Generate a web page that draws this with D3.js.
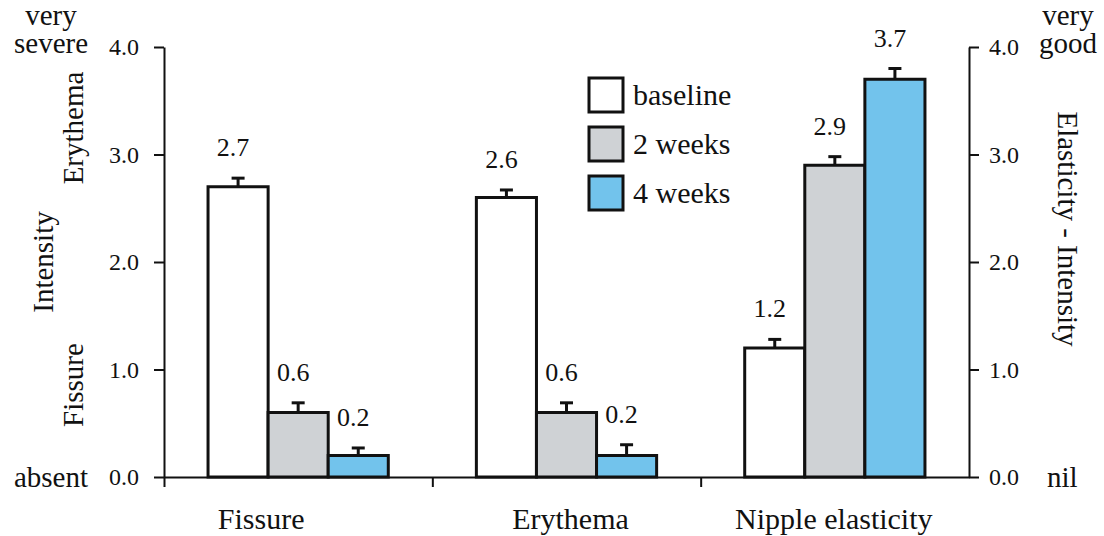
<!DOCTYPE html>
<html>
<head>
<meta charset="utf-8">
<script src="https://cdn.jsdelivr.net/npm/d3@7/dist/d3.min.js"></script>
<style>
  html, body { margin: 0; padding: 0; background: #fff; }
  svg { display: block; }
</style>
</head>
<body>
<svg id="chart" width="1104" height="536"></svg>
<script>
// Scores per condition and time point
const categories = ["Fissure", "Erythema", "Nipple elasticity"];
const seriesNames = ["baseline", "2 weeks", "4 weeks"];
const baselineValues = [2.7, 2.6, 1.2];
const week2Values = [0.6, 0.6, 2.9];
const week4Values = [0.2, 0.2, 3.7];
const baselineErr = [0.08, 0.07, 0.08];
const week2Err = [0.09, 0.09, 0.08];
const week4Err = [0.07, 0.1, 0.1];
const yTicks = [0, 1, 2, 3, 4];

const seriesValues = [baselineValues, week2Values, week4Values];
const seriesErr = [baselineErr, week2Err, week4Err];
const seriesFill = ["#ffffff", "#cfd2d5", "#72c3ec"];

const FONT = '"Liberation Serif", "Times New Roman", serif';
const INK = "#111";
const plot = { left: 164, right: 969, top: 47, bottom: 477 };

const svg = d3.select("#chart");

const x = d3.scaleBand().domain(categories).range([plot.left, plot.right]).paddingInner(0).paddingOuter(0);
const xSeries = d3.scaleBand().domain(seriesNames).range([0, x.bandwidth()]).paddingInner(0).paddingOuter(0.733);
const y = d3.scaleLinear().domain([0, 4]).range([plot.bottom, plot.top]);
const xEdge = d3.scaleLinear().domain([0, categories.length]).range([plot.left, plot.right]);

// Bars, one group per category
const rows = [];
categories.forEach((c, i) => {
  seriesNames.forEach((s, j) => {
    rows.push({ cat: c, series: s, j, value: seriesValues[j][i], err: seriesErr[j][i] });
  });
});

const g = svg.append("g");
const bx = d => x(d.cat) + xSeries(d.series);
const bw = xSeries.bandwidth();

// error bars (upper whisker only)
g.selectAll("line.err").data(rows).join("line").attr("class", "err")
  .attr("x1", d => bx(d) + bw / 2).attr("x2", d => bx(d) + bw / 2)
  .attr("y1", d => y(d.value)).attr("y2", d => y(d.value + d.err))
  .attr("stroke", INK).attr("stroke-width", 3);
g.selectAll("line.cap").data(rows).join("line").attr("class", "cap")
  .attr("x1", d => bx(d) + bw / 2 - 6.5).attr("x2", d => bx(d) + bw / 2 + 6.5)
  .attr("y1", d => y(d.value + d.err)).attr("y2", d => y(d.value + d.err))
  .attr("stroke", INK).attr("stroke-width", 3);

g.selectAll("rect.bar").data(rows).join("rect").attr("class", "bar")
  .attr("x", d => bx(d)).attr("width", bw)
  .attr("y", d => y(d.value)).attr("height", d => y(0) - y(d.value))
  .attr("fill", d => seriesFill[d.j])
  .attr("stroke", INK).attr("stroke-width", 3);

// value labels
g.selectAll("text.val").data(rows).join("text").attr("class", "val")
  .attr("x", d => bx(d) + bw / 2 - 5)
  .attr("y", d => y(d.value + d.err) - 22)
  .attr("text-anchor", "middle")
  .attr("font-size", 26)
  .style("font-family", FONT)
  .attr("fill", INK)
  .text(d => d3.format(".1f")(d.value));

// axes
const axisStyle = sel => {
  sel.selectAll("path.domain").attr("stroke", INK).attr("stroke-width", 2);
  sel.selectAll(".tick line").attr("stroke", INK).attr("stroke-width", 2);
  sel.selectAll(".tick text").attr("fill", INK).attr("font-size", 24).style("font-family", FONT);
};

svg.append("g").attr("transform", `translate(${plot.left},0)`)
  .call(d3.axisLeft(y).tickValues(yTicks).tickFormat(d3.format(".1f")).tickSize(10).tickSizeOuter(0).tickPadding(15))
  .call(axisStyle);

svg.append("g").attr("transform", `translate(${plot.right},0)`)
  .call(d3.axisRight(y).tickValues(yTicks).tickFormat(d3.format(".1f")).tickSize(10).tickSizeOuter(0).tickPadding(10))
  .call(axisStyle);

svg.append("g").attr("transform", `translate(0,${plot.bottom})`)
  .call(d3.axisBottom(xEdge).tickValues(d3.range(categories.length)).tickFormat("").tickSize(10).tickSizeOuter(0))
  .call(axisStyle);

// category labels
const catNudge = [-37, 4, -1];
svg.selectAll("text.cat").data(categories).join("text").attr("class", "cat")
  .attr("x", (d, i) => x(d) + x.bandwidth() / 2 + catNudge[i])
  .attr("y", 529)
  .attr("text-anchor", "middle")
  .attr("font-size", 30)
  .style("font-family", FONT)
  .attr("fill", INK)
  .text(d => d);

// scale anchors
const txt = (t, xx, yy, anchor, size) => svg.append("text")
  .attr("x", xx).attr("y", yy).attr("text-anchor", anchor)
  .attr("font-size", size).style("font-family", FONT).attr("fill", INK).text(t);

txt("very", 51, 25, "middle", 29);
txt("severe", 51, 53, "middle", 29);
txt("absent", 88, y(0) + 10, "end", 29);
txt("very", 1068, 25, "middle", 29);
txt("good", 1068, 53, "middle", 29);
txt("nil", 1047, y(0) + 10, "start", 29);

// rotated axis titles
const rot = (t, xx, yy, angle, size) => svg.append("text")
  .attr("transform", `translate(${xx},${yy}) rotate(${angle})`)
  .attr("text-anchor", "middle").attr("font-size", size)
  .style("font-family", FONT).attr("fill", INK).text(t);

rot("Erythema", 83, 128, -90, 29);
rot("Intensity", 53, 262, -90, 29);
rot("Fissure", 83, 385, -90, 29);
rot("Elasticity - Intensity", 1058, 229, 90, 29);

// legend
const legend = svg.append("g");
seriesNames.forEach((s, j) => {
  const ly = 78 + j * 49;
  legend.append("rect").attr("x", 589).attr("y", ly).attr("width", 34).attr("height", 34)
    .attr("fill", seriesFill[j]).attr("stroke", INK).attr("stroke-width", 3);
  legend.append("text").attr("x", 633).attr("y", ly + 27).attr("font-size", 30)
    .style("font-family", FONT).attr("fill", INK).text(s);
});
</script>
</body>
</html>
